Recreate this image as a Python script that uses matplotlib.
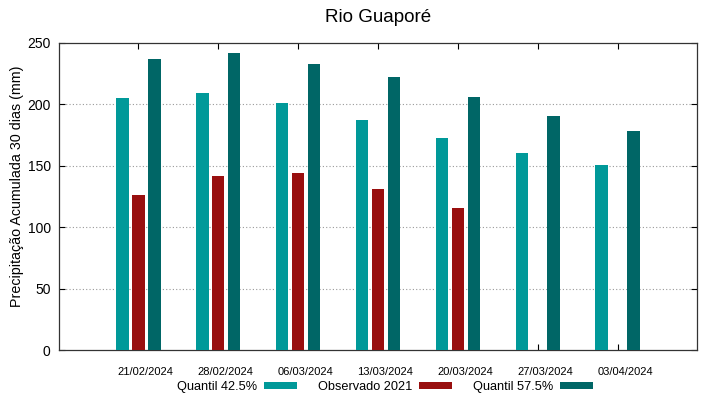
import numpy as np
import matplotlib
matplotlib.use("Agg")
import matplotlib.pyplot as plt
from matplotlib.transforms import ScaledTranslation

plt.rcParams["font.family"] = ["Liberation Sans", "DejaVu Sans"]

DATES = ["21/02/2024", "28/02/2024", "06/03/2024", "13/03/2024",
         "20/03/2024", "27/03/2024", "03/04/2024"]
Q425 = [205, 209.5, 201.5, 187.5, 173, 160.5, 151]
OBS2021 = [126, 142, 144, 131, 115.5, np.nan, np.nan]
Q575 = [237, 241.5, 233, 222.5, 206, 190.5, 178.5]
YTICKS = [0, 50, 100, 150, 200, 250]

C_Q425 = "#009999"
C_OBS = "#990f0f"
C_Q575 = "#006666"

fig = plt.figure(figsize=(7.19, 3.99), dpi=100)
ax = fig.add_axes([59 / 719, 49 / 399, 638 / 719, 307 / 399])

x = np.arange(len(DATES))
w = 0.16
ax.bar(x - 0.2, Q425, w, color=C_Q425, zorder=3, label="Quantil 42.5%")
ax.bar(x, OBS2021, w, color=C_OBS, zorder=3, label="Observado 2021")
ax.bar(x + 0.2, Q575, w, color=C_Q575, zorder=3, label="Quantil 57.5%")

ax.set_xlim(-0.99, 6.99)
ax.set_ylim(0, 250)
ax.set_xticks(x)
ax.set_xticklabels(DATES, fontsize=8)
ax.set_yticks(YTICKS)
ax.tick_params(axis="y", labelsize=10, direction="in", right=True, length=4, pad=6)
ax.tick_params(axis="x", direction="in", top=True, length=4, pad=12)

# gnuplot puts the date labels a bit right of the tick
shift = ScaledTranslation(0.075, 0, fig.dpi_scale_trans)
for lab in ax.get_xticklabels():
    lab.set_transform(lab.get_transform() + shift)

for y in YTICKS[1:-1]:
    ax.axhline(y, color="#999999", linestyle=(0, (1, 2)), linewidth=0.8, zorder=1)

for spine in ax.spines.values():
    spine.set_color("#333333")
    spine.set_linewidth(0.9)

ax.set_ylabel("Precipitação Acumulada 30 dias (mm)", fontsize=10.3)
ax.yaxis.set_label_coords(-0.055, 0.535)
fig.text(378 / 719, 1 - 17 / 399, "Rio Guaporé", fontsize=13.5, ha="center", va="center")

fig.legend(*ax.get_legend_handles_labels(), loc="center",
           bbox_to_anchor=(385 / 719, 1 - 387 / 399), ncol=3, frameon=False,
           markerfirst=False, fontsize=9.2, handlelength=2.6, handleheight=0.4,
           columnspacing=1.6, handletextpad=0.55, borderpad=0.2)

fig.savefig("out.png", dpi=100)
